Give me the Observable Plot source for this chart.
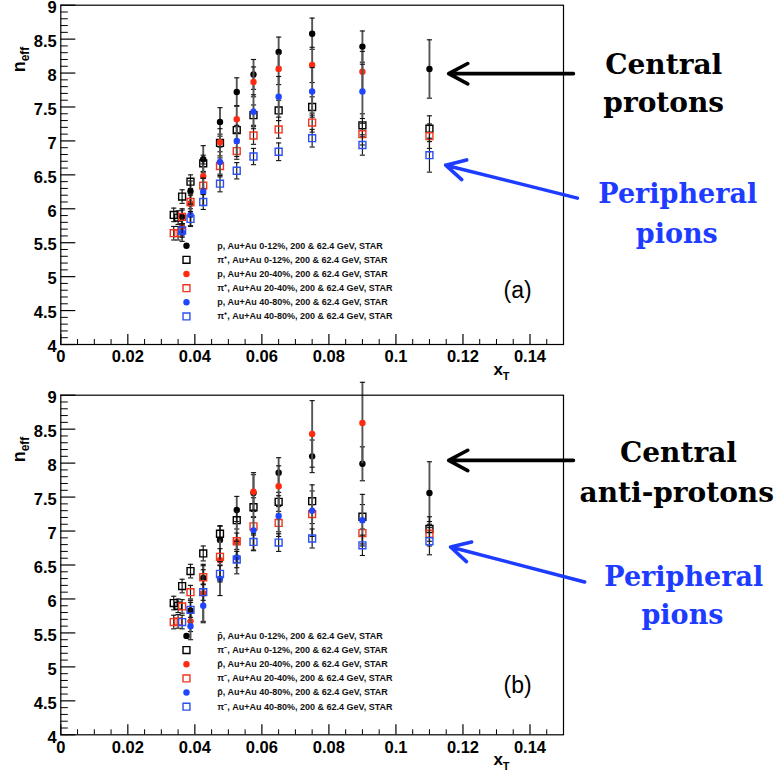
<!DOCTYPE html>
<html><head><meta charset="utf-8">
<script src="https://cdn.jsdelivr.net/npm/d3@7"></script>
<script src="https://cdn.jsdelivr.net/npm/@observablehq/plot@0.6"></script>
<style>
body{margin:0;background:#fff;}
svg{display:block;overflow:visible;}
</style>
</head><body><div id="chart"></div>
<script>
// ---------- Panel (a): protons / pi+ ----------
const xa_p0  = [0.0362,0.0387,0.0425,0.0475,0.0525,0.0575,0.065,0.075,0.09,0.11];
const ya_p0  = [5.88,6.26,6.73,7.28,7.72,7.98,8.31,8.58,8.39,8.06];
const ea_p0  = [0.12,0.15,0.20,0.21,0.21,0.22,0.22,0.23,0.23,0.43];
const xa_pi0 = [0.0337,0.0350,0.0362,0.0387,0.0425,0.0475,0.0525,0.0575,0.065,0.075,0.09,0.11];
const ya_pi0 = [5.91,5.87,6.18,6.40,6.67,6.97,7.16,7.38,7.45,7.50,7.23,7.18];
const ea_pi0 = [0.10,0.10,0.10,0.10,0.12,0.13,0.14,0.15,0.15,0.15,0.17,0.19];
const xa_p20  = [0.0362,0.0387,0.0425,0.0475,0.0525,0.0575,0.065,0.075,0.09];
const ya_p20  = [5.73,6.07,6.48,6.98,7.32,7.87,8.06,8.12,8.02];
const ea_p20  = [0.13,0.15,0.18,0.20,0.20,0.22,0.23,0.26,0.30];
const xa_pi20 = [0.0337,0.0350,0.0362,0.0387,0.0425,0.0475,0.0525,0.0575,0.065,0.075,0.09,0.11];
const ya_pi20 = [5.64,5.64,5.88,6.10,6.34,6.63,6.85,7.08,7.17,7.27,7.10,7.07];
const ea_pi20 = [0.10,0.10,0.10,0.10,0.11,0.12,0.12,0.13,0.13,0.14,0.16,0.18];
const xa_p40  = [0.0362,0.0387,0.0425,0.0475,0.0525,0.0575,0.065,0.075,0.09];
const ya_p40  = [5.65,5.91,6.25,6.69,7.00,7.43,7.65,7.73,7.73];
const ea_p40  = [0.13,0.16,0.20,0.22,0.23,0.25,0.30,0.35,0.40];
const xa_pi40 = [0.0362,0.0387,0.0425,0.0475,0.0525,0.0575,0.065,0.075,0.09,0.11];
const ya_pi40 = [5.68,5.85,6.10,6.37,6.56,6.77,6.84,7.04,6.94,6.79];
const ea_pi40 = [0.10,0.11,0.11,0.12,0.12,0.12,0.13,0.13,0.15,0.25];

// ---------- Panel (b): anti-protons / pi- ----------
const xb_p0  = [0.0387,0.0425,0.0475,0.0525,0.0575,0.065,0.075,0.09,0.11];
const yb_p0  = [5.83,6.31,6.87,7.31,7.56,7.86,8.10,7.99,7.56];
const eb_p0  = [0.15,0.20,0.20,0.20,0.27,0.22,0.24,0.25,0.46];
const xb_pi0 = [0.0337,0.0350,0.0362,0.0387,0.0425,0.0475,0.0525,0.0575,0.065,0.075,0.09,0.11];
const yb_pi0 = [5.94,5.90,6.19,6.41,6.67,6.96,7.16,7.35,7.43,7.44,7.21,7.03];
const eb_pi0 = [0.10,0.10,0.10,0.10,0.11,0.12,0.13,0.14,0.14,0.15,0.18,0.18];
const xb_p20  = [0.0387,0.0425,0.0475,0.0525,0.0575,0.065,0.075,0.09];
const yb_p20  = [5.67,6.08,6.57,6.84,7.58,7.66,8.43,8.59];
const eb_p20  = [0.15,0.41,0.30,0.30,0.28,0.30,0.49,0.60];
const xb_pi20 = [0.0337,0.0350,0.0362,0.0387,0.0425,0.0475,0.0525,0.0575,0.065,0.075,0.09,0.11];
const yb_pi20 = [5.66,5.67,5.89,6.10,6.32,6.62,6.85,7.07,7.12,7.25,6.97,6.96];
const eb_pi20 = [0.10,0.10,0.10,0.10,0.11,0.12,0.12,0.13,0.13,0.14,0.16,0.18];
const xb_p40  = [0.0387,0.0425,0.0475,0.0525,0.0575,0.065,0.075,0.09];
const yb_p40  = [5.60,5.90,6.30,6.61,7.01,7.22,7.30,7.16];
const eb_p40  = [0.20,0.25,0.25,0.24,0.30,0.30,0.38,0.38];
const xb_pi40 = [0.0362,0.0387,0.0425,0.0475,0.0525,0.0575,0.065,0.075,0.09,0.11];
const yb_pi40 = [5.66,5.84,6.10,6.37,6.58,6.84,6.83,6.89,6.79,6.85];
const eb_pi40 = [0.10,0.11,0.12,0.12,0.12,0.12,0.13,0.14,0.15,0.20];

// ---------- Labels ----------
const legendA = [
  "p, Au+Au 0-12%, 200 & 62.4 GeV, STAR",
  "π⁺, Au+Au 0-12%, 200 & 62.4 GeV, STAR",
  "p, Au+Au 20-40%, 200 & 62.4 GeV, STAR",
  "π⁺, Au+Au 20-40%, 200 & 62.4 GeV, STAR",
  "p, Au+Au 40-80%, 200 & 62.4 GeV, STAR",
  "π⁺, Au+Au 40-80%, 200 & 62.4 GeV, STAR"
];
const legendB = [
  "p\u0304, Au+Au 0-12%, 200 & 62.4 GeV, STAR",
  "π⁻, Au+Au 0-12%, 200 & 62.4 GeV, STAR",
  "p\u0304, Au+Au 20-40%, 200 & 62.4 GeV, STAR",
  "π⁻, Au+Au 20-40%, 200 & 62.4 GeV, STAR",
  "p\u0304, Au+Au 40-80%, 200 & 62.4 GeV, STAR",
  "π⁻, Au+Au 40-80%, 200 & 62.4 GeV, STAR"
];
const xTickValues = [0,0.02,0.04,0.06,0.08,0.1,0.12,0.14];
const xTickLabels = ["0","0.02","0.04","0.06","0.08","0.1","0.12","0.14"];
const yTickValues = [4,4.5,5,5.5,6,6.5,7,7.5,8,8.5,9];
const yTickLabels = ["4","4.5","5","5.5","6","6.5","7","7.5","8","8.5","9"];
const notesA = ["Central","protons","Peripheral","pions"];
const notesB = ["Central","anti-protons","Peripheral","pions"];
const tags = ["(a)","(b)"];

// ---------- Styles ----------
const BLACK = "#000", RED = "#ff2a10", BLUE = "#1f45ff";
const RED_O = "#f0361e", BLUE_O = "#2a4ff2", NOTE_BLUE = "#1d3cff";
const kinds = [
  {open:false,color:BLACK},{open:true,color:BLACK},
  {open:false,color:RED},{open:true,color:RED_O},
  {open:false,color:BLUE},{open:true,color:BLUE_O}
];
const capSym = {draw(ctx){ctx.moveTo(-2.6,0);ctx.lineTo(2.6,0);}};

function rows(xs, ys, es){ return xs.map((x,i)=>({x, y: ys[i], e: es[i]})); }

function panel(opts){
  const {series, legend, notes, tag, height, marginBottom, noteY, noteX, noteSize, arrows, tagY} = opts;
  const mL = 60.3, mR = 217, mT = 4.7;
  const fw = 780 - mL - mR, fh = height - mT - marginBottom;
  const marks = [];
  const yMinor = d3.range(40, 91).map(v=>v/10).filter(v=>!yTickValues.includes(v));
  const xMinor = d3.range(0, 30).map(v=>v*0.005).filter(v=>!xTickValues.some(t=>Math.abs(t-v)<1e-9));
  marks.push(Plot.tickY(yTickValues, {y: d=>d, insetRight: fw-15, stroke: "#000", strokeWidth: 1.2}));
  marks.push(Plot.tickY(yMinor, {y: d=>d, insetRight: fw-7.5, stroke: "#000", strokeWidth: 1}));
  marks.push(Plot.tickX(xTickValues, {x: d=>d, insetTop: fh-10, stroke: "#000", strokeWidth: 1.2}));
  marks.push(Plot.tickX(xMinor, {x: d=>d, insetTop: fh-5, stroke: "#000", strokeWidth: 1}));
  marks.push(Plot.axisY({ticks: yTickValues, tickFormat: (d,i)=>yTickLabels[i], tickSize: 0, tickPadding: 4,
    fontSize: 16.5, fontWeight: "bold", label: null, dy: 2.5}));
  marks.push(Plot.axisX({ticks: xTickValues, tickFormat: (d,i)=>xTickLabels[i], tickSize: 0, tickPadding: 6,
    fontSize: 16.5, fontWeight: "bold", label: null}));
  series.forEach((r, k)=>{
    const st = kinds[k];
    marks.push(Plot.ruleX(r, {x: "x", y1: d=>d.y-d.e, y2: d=>d.y+d.e,
      stroke: st.open ? "#1a1a1a" : "#555", strokeWidth: st.open ? 1.2 : 1.9}));
    marks.push(Plot.dot(r, {x: "x", y: d=>d.y+d.e, symbol: capSym, fill: "none", stroke: "#111", strokeWidth: 1.1}));
    marks.push(Plot.dot(r, {x: "x", y: d=>d.y-d.e, symbol: capSym, fill: "none", stroke: "#111", strokeWidth: 1.1}));
    if (st.open) marks.push(Plot.dot(r, {x: "x", y: "y", symbol: "square", r: 3.9, fill: "none", stroke: st.color, strokeWidth: 1.4}));
    else marks.push(Plot.dot(r, {x: "x", y: "y", r: 3.2, fill: st.color, stroke: "none"}));
  });
  const leg = legend.map((label,i)=>({label, i, y: 5.456 - i*0.2085}));
  leg.forEach(d=>{
    const st = kinds[d.i];
    if (st.open) marks.push(Plot.dot([d], {x: ()=>0.0375, y: "y", symbol: "square", r: 3.9, fill: "none", stroke: st.color, strokeWidth: 1.4}));
    else marks.push(Plot.dot([d], {x: ()=>0.0375, y: "y", r: 3.2, fill: st.color, stroke: "none"}));
  });
  marks.push(Plot.text(leg, {x: ()=>0.0467, y: "y", text: "label", textAnchor: "start", fontSize: 9, fontWeight: "bold", fill: "#111"}));
  marks.push(Plot.text([tag], {x: ()=>0.1363, y: ()=>tagY, text: d=>d, fontSize: 23, fontWeight: "normal", fill: "#000"}));
  marks.push(Plot.frame({stroke: "#000", strokeWidth: 1.2}));
  marks.push(Plot.arrow(arrows, {x1: "x1", y1: "y1", x2: "x2", y2: "y2", stroke: "c", strokeWidth: 3.6, headLength: 9, headAngle: 56}));
  const nt = notes.map((t,i)=>({t, x: noteX[i], y: noteY[i], c: i<2 ? "#000" : NOTE_BLUE, s: noteSize[i]}));
  marks.push(Plot.text(nt, {x: "x", y: "y", text: "t", fill: "c", fontSize: d=>d.s,
    fontFamily: "'DejaVu Serif', 'Liberation Serif', serif", fontWeight: "bold"}));

  const svg = Plot.plot({
    width: 780, height, marginLeft: mL, marginRight: mR, marginTop: mT, marginBottom,
    x: {domain: [0, 0.15]}, y: {domain: [4, 9]},
    color: {type: "identity"},
    style: {fontFamily: "'Liberation Sans', Arial, Helvetica, sans-serif", background: "white", overflow: "visible"},
    marks
  });
  const s = d3.select(svg);
  const yl = s.append("text").attr("transform", `translate(25,${mT+42}) rotate(-90)`)
    .attr("text-anchor", "end").attr("font-family", "'Liberation Sans', Arial, sans-serif").attr("font-weight", "bold").attr("fill","#000");
  yl.append("tspan").attr("font-size", 18).text("n");
  yl.append("tspan").attr("font-size", 12).attr("dy", 4).text("eff");
  const xl = s.append("text").attr("x", 501.5).attr("y", mT + fh + 31)
    .attr("font-family", "'Liberation Sans', Arial, sans-serif").attr("font-weight", "bold").attr("fill","#000");
  xl.append("tspan").attr("font-size", 17).text("x");
  xl.append("tspan").attr("font-size", 11).attr("dy", 5).text("T");
  return svg;
}

const seriesA = [rows(xa_p0,ya_p0,ea_p0), rows(xa_pi0,ya_pi0,ea_pi0), rows(xa_p20,ya_p20,ea_p20),
                 rows(xa_pi20,ya_pi20,ea_pi20), rows(xa_p40,ya_p40,ea_p40), rows(xa_pi40,ya_pi40,ea_pi40)];
const seriesB = [rows(xb_p0,yb_p0,eb_p0), rows(xb_pi0,yb_pi0,eb_pi0), rows(xb_p20,yb_p20,eb_p20),
                 rows(xb_pi20,yb_pi20,eb_pi20), rows(xb_p40,yb_p40,eb_p40), rows(xb_pi40,yb_pi40,eb_pi40)];

const root = document.getElementById("chart");
root.appendChild(panel({
  series: seriesA, legend: legendA, notes: notesA, tag: tags[0], height: 390, marginBottom: 46, tagY: 4.80,
  noteX: [0.1799, 0.1799, 0.1841, 0.1838], noteY: [8.124, 7.554, 6.207, 5.622], noteSize: [28, 28, 27, 27],
  arrows: [{x1: 0.15296, y1: 7.991, x2: 0.11573, y2: 7.991, c: "#000"},
           {x1: 0.15415, y1: 6.157, x2: 0.11484, y2: 6.643, c: NOTE_BLUE}]
}));
root.appendChild(panel({
  series: seriesB, legend: legendB, notes: notesB, tag: tags[1], height: 385, marginBottom: 40.7, tagY: 4.72,
  noteX: [0.1843, 0.1838, 0.1859, 0.1855], noteY: [8.147, 7.559, 6.319, 5.765], noteSize: [28, 28, 27, 27],
  arrows: [{x1: 0.15296, y1: 8.04, x2: 0.11573, y2: 8.04, c: "#000"},
           {x1: 0.1563, y1: 6.25, x2: 0.1163, y2: 6.765, c: NOTE_BLUE}]
}));
</script>
</body></html>
